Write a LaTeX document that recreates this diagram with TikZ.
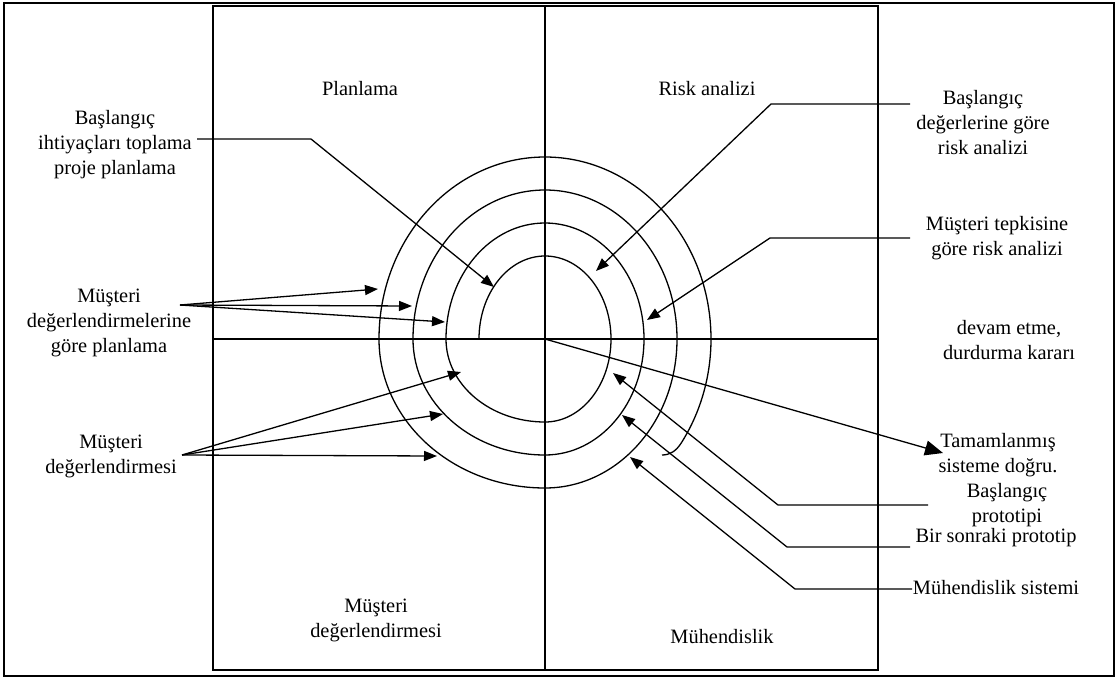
\documentclass[tikz,border=0pt]{standalone}
\usepackage{fontspec}
\setmainfont{Liberation Serif}
\usetikzlibrary{arrows.meta}

\begin{document}
\begin{tikzpicture}[x=1pt,y=-1pt,line width=1.3pt,
	lbl/.style={align=center,inner sep=0pt,font=\fontsize{20.4}{25}\selectfont},
	arr/.style={-{Triangle[length=13pt,width=10pt]}},
	bigarr/.style={-{Triangle[length=18pt,width=15pt]}}]
	\useasboundingbox (0,0) rectangle (1119,680);
	\draw[line width=2.4pt] (4,3) rectangle (1114,676);
	\draw (213,6) rectangle (878,670);
	\coordinate (O) at (545,339);
	\draw (545,6) -- (545,670);
	\draw (213,339) -- (878,339);
	
	% spiral, quarter by quarter
	\draw (479,339) arc[start angle=180,end angle=360,x radius=66,y radius=83]
		arc[start angle=0,end angle=90,x radius=66,y radius=83]
		arc[start angle=90,end angle=180,x radius=99,y radius=83]
		arc[start angle=180,end angle=360,x radius=99,y radius=116]
		arc[start angle=0,end angle=90,x radius=99,y radius=116]
		arc[start angle=90,end angle=180,x radius=132,y radius=116]
		arc[start angle=180,end angle=360,x radius=132,y radius=149]
		arc[start angle=0,end angle=90,x radius=132,y radius=149]
		arc[start angle=90,end angle=180,x radius=166,y radius=149]
		arc[start angle=180,end angle=360,x radius=166,y radius=182]
		arc[start angle=0,end angle=35,x radius=166,y radius=182]
		.. controls (676,451) and (670,455) .. (662,455);
	
	\node[lbl] (Plan) at (360,89) {Planlama};
	\node[lbl] (Risk) at (707,89) {Risk analizi};
	\node[lbl] (Mdq) at (376,620) {Müşteri\\değerlendirmesi};
	\node[lbl] (Muh) at (722,637) {Mühendislik};
	
	\node[lbl] (Bih) at (115,145) {Başlangıç\\ihtiyaçları toplama\\proje planlama};
	\node[lbl] (Mdp) at (109,323) {Müşteri\\değerlendirmelerine\\göre planlama};
	\node[lbl] (Md) at (111,456) {Müşteri\\değerlendirmesi};
	\node[lbl] (Bdr) at (983,123) {Başlangıç\\değerlerine göre\\risk analizi};
	\node[lbl] (Mtr) at (997,238) {Müşteri tepkisine\\göre risk analizi};
	\node[lbl] (Dev) at (1009,340) {devam etme,\\durdurma kararı};
	\node[lbl] (Tam) at (998,455) {Tamamlanmış\\sisteme doğru.};
	\node[lbl] (Bp) at (1007,505) {Başlangıç\\prototipi};
	\node[lbl] (Bsp) at (996,538) {Bir sonraki prototip};
	\node[lbl] (Ms) at (996,588) {Mühendislik sistemi};
	
	\coordinate (b0) at (197,139);
	\coordinate (b1) at (311,139);
	\coordinate (b2) at (494,287);
	\draw[arr] (b0) -- (b1) -- (b2);
	
	\coordinate (f1) at (180,305);
	\coordinate (f11) at (378,289);
	\coordinate (f12) at (412,306);
	\coordinate (f13) at (445,322);
	\path [arr] (f1) edge (f11);
	\path [arr] (f1) edge (f12);
	\path [arr] (f1) edge (f13);
	
	\coordinate (f2) at (182,455);
	\coordinate (f21) at (461,372);
	\coordinate (f22) at (443,414);
	\coordinate (f23) at (437,456);
	\path [arr] (f2) edge (f21);
	\path [arr] (f2) edge (f22);
	\path [arr] (f2) edge (f23);
	
	\coordinate (r10) at (910,104);
	\coordinate (r11) at (771,104);
	\coordinate (r12) at (596,271);
	\draw[arr] (r10) -- (r11) -- (r12);
	
	\coordinate (r20) at (910,238);
	\coordinate (r21) at (770,238);
	\coordinate (r22) at (647,320);
	\draw[arr] (r20) -- (r21) -- (r22);
	
	\coordinate (t) at (943,453);
	\draw[bigarr] (O) -- (t);
	
	\coordinate (p10) at (928,505);
	\coordinate (p11) at (778,505);
	\coordinate (p12) at (613,373);
	\draw[arr] (p10) -- (p11) -- (p12);
	
	\coordinate (p20) at (910,547);
	\coordinate (p21) at (787,547);
	\coordinate (p22) at (622,415);
	\draw[arr] (p20) -- (p21) -- (p22);
	
	\coordinate (p30) at (912,589);
	\coordinate (p31) at (795,589);
	\coordinate (p32) at (630,457);
	\draw[arr] (p30) -- (p31) -- (p32);
\end{tikzpicture}
\end{document}
